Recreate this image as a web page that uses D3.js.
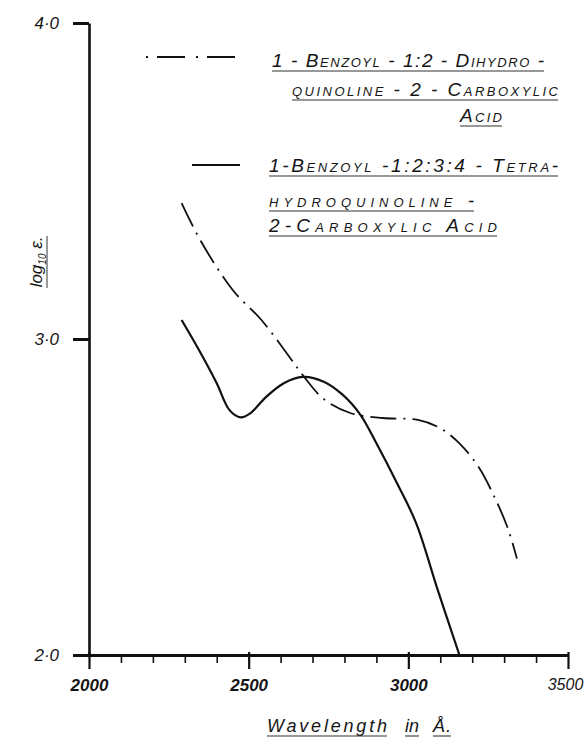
<!DOCTYPE html>
<html>
<head>
<meta charset="utf-8">
<script src="https://cdn.jsdelivr.net/npm/d3@7/dist/d3.min.js"></script>
<style>
  html, body { margin: 0; padding: 0; background: #fff; }
  svg { display: block; }
  text { font-family: "Liberation Sans", "DejaVu Sans", sans-serif; fill: #151515; }
</style>
</head>
<body>
<svg id="chart" width="584" height="741"></svg>
<script>
// absorption spectra, log10 epsilon vs wavelength (Angstrom)

// 1-benzoyl-1:2-dihydroquinoline-2-carboxylic acid (dash-dot)
const dihydroWl  = [2290, 2350, 2450, 2540, 2630, 2670, 2735, 2820, 2920, 3030, 3100, 3160, 3220, 3265, 3310, 3340];
const dihydroLog = [3.43, 3.31, 3.155, 3.06, 2.94, 2.885, 2.81, 2.765, 2.75, 2.744, 2.718, 2.67, 2.595, 2.51, 2.405, 2.305];

// 1-benzoyl-1:2:3:4-tetrahydroquinoline-2-carboxylic acid (solid)
const tetraWl  = [2290, 2350, 2400, 2440, 2475, 2505, 2555, 2610, 2670, 2735, 2795, 2850, 2900, 2965, 3025, 3092, 3160];
const tetraLog = [3.06, 2.955, 2.86, 2.775, 2.752, 2.765, 2.817, 2.86, 2.88, 2.865, 2.823, 2.76, 2.67, 2.543, 2.416, 2.206, 2.0];

const xMajor = [2000, 2500, 3000, 3500];
const xMinor = d3.range(2100, 3500, 100).filter(v => v % 500 !== 0);
const yTicks = [2, 3, 4];

const legendDihydro = ["1 - Benzoyl - 1:2 - Dihydro -", "quinoline - 2 - Carboxylic", "Acid"];
const legendTetra = ["1-Benzoyl -1:2:3:4 - Tetra-", "hydroquinoline -", "2-Carboxylic  Acid"];
const xTitleWords = ["Wavelength", "in", "Å."];

const svg = d3.select('#chart');

const x = d3.scaleLinear().domain([2000, 3500]).range([89, 568]);
const y = d3.scaleLinear().domain([2, 4]).range([655, 23]);

const dashDot = '26,7,2,7';

// x axis: minor ticks first, then major ticks with labels
svg.append('g')
  .attr('transform', `translate(0,${y(2)})`)
  .call(d3.axisBottom(x).tickValues(xMinor).tickSize(8).tickSizeOuter(0).tickFormat(''))
  .call(g => g.select('.domain').remove())
  .call(g => g.selectAll('.tick line').attr('stroke', '#111').attr('stroke-width', 1.6));

svg.append('g')
  .attr('transform', `translate(0,${y(2)})`)
  .call(d3.axisBottom(x).tickValues(xMajor).tickSize(14).tickSizeOuter(0).tickFormat(d3.format('d')).tickPadding(10))
  .call(g => g.select('.domain').attr('stroke', '#111').attr('stroke-width', 3.2))
  .call(g => g.selectAll('.tick line').attr('stroke', '#111').attr('stroke-width', 2.2).attr('y1', -3))
  .call(g => g.selectAll('.tick text')
    .attr('font-size', d => d === 3500 ? 16 : 17).attr('font-style', 'italic')
    .attr('font-weight', d => d === 3500 ? 'normal' : 'bold')
    .attr('dx', d => d === 3500 ? -3 : 0)
    .attr('fill', '#111'));

// y axis
svg.append('g')
  .attr('transform', `translate(${x(2000)},0)`)
  .call(d3.axisLeft(y).tickValues(yTicks).tickSize(16).tickSizeOuter(0)
    .tickFormat(d => d3.format('.1f')(d).replace('.', '·')).tickPadding(14))
  .call(g => g.select('.domain').attr('stroke', '#111').attr('stroke-width', 2.6))
  .call(g => g.selectAll('.tick line').attr('stroke', '#111').attr('stroke-width', 3))
  .call(g => g.selectAll('.tick text')
    .attr('font-size', 17).attr('font-style', 'italic').attr('fill', '#111'));

// curves
const line = d3.line().curve(d3.curveCatmullRom.alpha(0.5));

svg.append('path')
  .datum(dihydroWl.map((w, i) => [x(w), y(dihydroLog[i])]))
  .attr('d', line)
  .attr('fill', 'none')
  .attr('stroke', '#111')
  .attr('stroke-width', 1.8)
  .attr('stroke-dasharray', dashDot);

svg.append('path')
  .datum(tetraWl.map((w, i) => [x(w), y(tetraLog[i])]))
  .attr('d', line)
  .attr('fill', 'none')
  .attr('stroke', '#111')
  .attr('stroke-width', 2.2);

// underlined text pieces, spaced out to the width they have in the original
function underlined(t, r, size, caps) {
  svg.append('text')
    .attr('x', r.x).attr('y', r.y)
    .attr('textLength', r.w).attr('lengthAdjust', 'spacing')
    .attr('font-size', size).attr('font-style', 'italic')
    .style('font-variant', caps ? 'small-caps' : 'normal')
    .text(t);
  svg.append('line')
    .attr('x1', r.x).attr('x2', r.x + r.w)
    .attr('y1', r.y + 4).attr('y2', r.y + 4)
    .attr('stroke', '#333').attr('stroke-width', 1.1);
}

// legend
svg.append('line')
  .attr('x1', 146).attr('x2', 238).attr('y1', 57).attr('y2', 57)
  .attr('stroke', '#111').attr('stroke-width', 1.8)
  .attr('stroke-dasharray', '2,9,28,11');
[{ x: 272, y: 67, w: 272 }, { x: 292, y: 96, w: 266 }, { x: 460, y: 122, w: 42 }]
  .forEach((r, i) => underlined(legendDihydro[i], r, 19, true));

svg.append('line')
  .attr('x1', 192).attr('x2', 240).attr('y1', 165).attr('y2', 165)
  .attr('stroke', '#111').attr('stroke-width', 2);
[{ x: 269, y: 172, w: 289 }, { x: 269, y: 207, w: 205 }, { x: 269, y: 232, w: 228 }]
  .forEach((r, i) => underlined(legendTetra[i], r, 19, true));

// axis titles
const yLab = svg.append('text')
  .attr('transform', 'translate(42,262) rotate(-90)')
  .attr('text-anchor', 'middle')
  .attr('font-size', 17).attr('font-style', 'italic');
yLab.append('tspan').text('log');
yLab.append('tspan').attr('font-size', 10).attr('dy', 4).text('10');
yLab.append('tspan').attr('dy', -4).text(' ε.');
svg.append('line')
  .attr('x1', 47).attr('x2', 47).attr('y1', 236).attr('y2', 288)
  .attr('stroke', '#333').attr('stroke-width', 1);

[{ x: 267, y: 732, w: 120 }, { x: 405, y: 732, w: 14 }, { x: 433, y: 732, w: 18 }]
  .forEach((r, i) => underlined(xTitleWords[i], r, 18, false));
</script>
</body>
</html>
